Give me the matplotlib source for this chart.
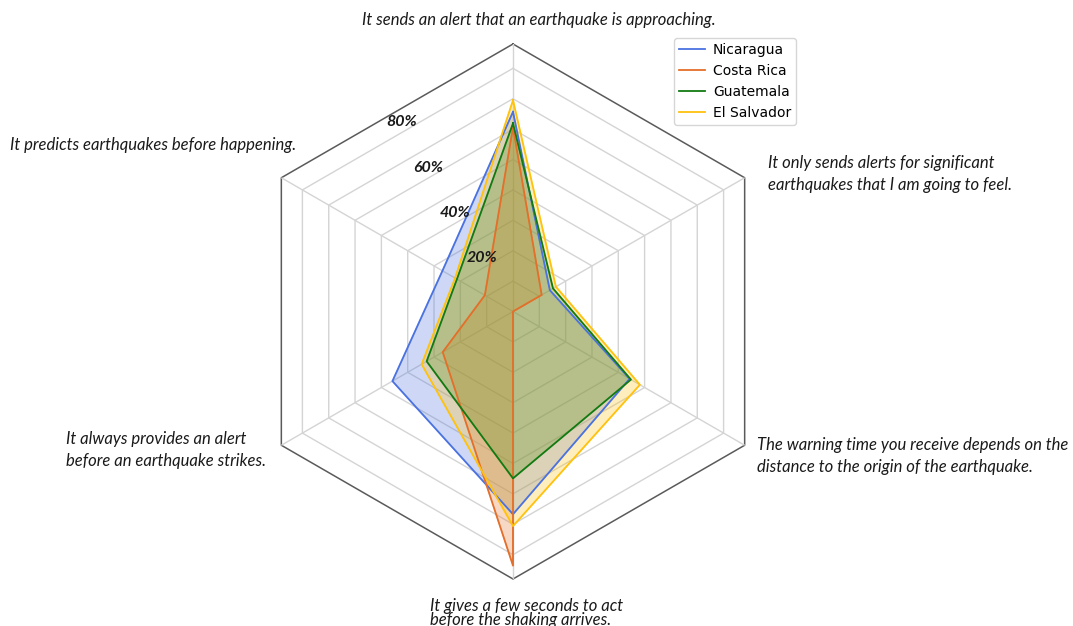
import numpy as np
import matplotlib
matplotlib.use("Agg")
import matplotlib.pyplot as plt

# ---- data ----
categories = [
    "It sends an alert that an earthquake is approaching.",
    "It only sends alerts for significant\nearthquakes that I am going to feel.",
    "The warning time you receive depends on the\ndistance to the origin of the earthquake.",
    "It gives a few seconds to act\nbefore the shaking arrives.",
    "It always provides an alert\nbefore an earthquake strikes.",
    "It predicts earthquakes before happening.",
]
nicaragua = [65.7, 14.0, 44.3, 66.7, 45.8, 26.8]
costa_rica = [60.6, 10.9, 0.0, 83.6, 26.7, 10.7]
guatemala = [61.9, 15.2, 44.8, 54.9, 32.8, 21.3]
el_salvador = [69.5, 16.3, 48.2, 70.6, 34.7, 22.0]
series_names = ["Nicaragua", "Costa Rica", "Guatemala", "El Salvador"]
ring_values = [10, 20, 30, 40, 50, 60, 70, 80]
tick_values = [20, 40, 60, 80]
tick_labels = ["20%", "40%", "60%", "80%"]
r_max = 88

colors = ["#4a72e0", "#e46f2a", "#127a12", "#ffc20e"]

W, H = 1073, 626
fig = plt.figure(figsize=(W / 100, H / 100), dpi=100)
cx, cy, R = 513, 311.5, 267.5
ax = fig.add_axes([(cx - R) / W, (H - cy - R) / H, 2 * R / W, 2 * R / H],
                  projection="polar")
ax.set_theta_offset(np.pi / 2)
ax.set_theta_direction(-1)
ax.set_ylim(0, r_max)
ax.patch.set_alpha(0)
ax.spines["polar"].set_visible(False)

n = len(categories)
angles = np.linspace(0, 2 * np.pi, n, endpoint=False)
closed = np.concatenate([angles, angles[:1]])

# spokes
ax.set_xticks(angles)
ax.set_xticklabels([])
ax.xaxis.grid(True, color="#d4d4d4", linewidth=1.0)
ax.set_yticks([])
ax.yaxis.grid(False)

# hexagonal rings
for rv in ring_values:
    ax.plot(closed, [rv] * (n + 1), color="#d4d4d4", linewidth=1.0, zorder=1)
ax.plot(closed, [r_max] * (n + 1), color="#5a5a5a", linewidth=1.1, zorder=1,
        clip_on=False)

for name, vals, c in zip(series_names,
                         [nicaragua, costa_rica, guatemala, el_salvador], colors):
    v = list(vals) + [vals[0]]
    ax.plot(closed, v, color=c, linewidth=1.3, label=name, zorder=3)
    ax.fill(closed, v, color=c, alpha=0.27, zorder=2)

# radial tick labels along the edge midpoint direction
lab_theta = -np.deg2rad(30.5)
for tv, tl in zip(tick_values, tick_labels):
    ax.text(lab_theta, tv * np.cos(np.deg2rad(30)) + 3, tl, ha="center",
            va="center", fontsize=11.5, fontfamily="Lato", fontweight="bold",
            fontstyle="italic", color="#1a1a1a", zorder=5)

# category labels
lab_kw = dict(fontsize=12, fontfamily="Lato", fontstyle="italic",
              color="#1a1a1a", va="center", ha="left")
positions = [
    (362, [20]),
    (768, [163, 185]),
    (757, [445, 467]),
    (430, [606, 620]),
    (66, [439, 461]),
    (10, [145]),
]
for cat, (x, ys) in zip(categories, positions):
    for line, y in zip(cat.split("\n"), ys):
        fig.text(x / W, 1 - y / H, line, **lab_kw)

leg = ax.legend(loc="upper right", bbox_to_anchor=(803 / W, 1 - 31 / H),
                bbox_transform=fig.transFigure, fontsize=10, frameon=True,
                handlelength=1.9, handletextpad=0.55, borderpad=0.35)

fig.savefig("out.png", dpi=100)
